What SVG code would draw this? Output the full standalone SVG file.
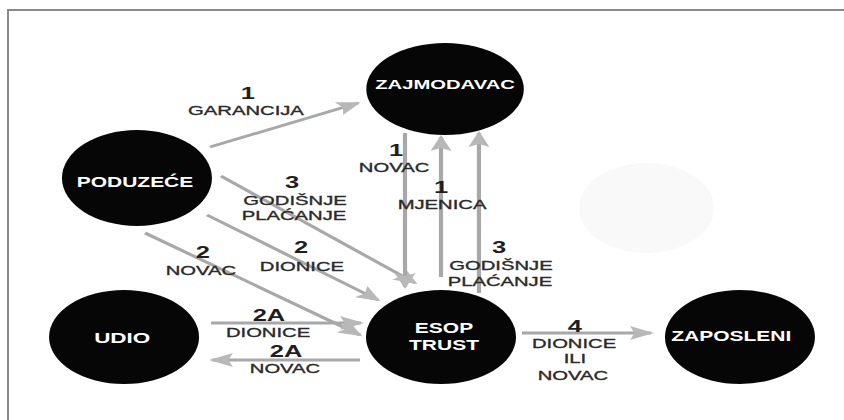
<svg xmlns="http://www.w3.org/2000/svg" width="844" height="420" viewBox="0 0 844 420">
  <style>
    .node ellipse { fill: #060606; }
    .nl { font-family: "Liberation Sans", Arial, sans-serif; font-weight: bold; fill: #ffffff; text-anchor: middle; font-size: 14px; }
    .edge { fill: none; stroke: #a8a8a8; stroke-width: 2.8; marker-end: url(#head); }
    .num { font-family: "Liberation Sans", Arial, sans-serif; font-weight: bold; fill: #1e1e1e; text-anchor: middle; font-size: 17px; }
    .lbl { font-family: "Liberation Sans", Arial, sans-serif; fill: #2a2a2a; stroke: #2a2a2a; stroke-width: 0.35; text-anchor: middle; font-size: 13.5px; }
  </style>
  <defs>
    <marker id="head" markerUnits="userSpaceOnUse" markerWidth="18" markerHeight="16" refX="14" refY="7" orient="auto" viewBox="0 0 18 16">
      <path d="M0,0 L16,7 L0,14 L3,7 Z" fill="#b8b8b8"/>
    </marker>
  </defs>
  <rect x="0" y="0" width="844" height="420" fill="#ffffff"/>
  <path d="M8,420 V10 H844" fill="none" stroke="#8a8a8a" stroke-width="2"/>
  <g transform="scale(1.5,1)">
    <ellipse cx="431" cy="208" rx="45" ry="45" fill="#f9f9f9"/>

    <g id="connectors">
      <path class="edge" d="M140,147 L238.7,103"/>
      <path class="edge" d="M147.3,176 L276.7,283"/>
      <path class="edge" d="M138,215 L252,300"/>
      <path class="edge" d="M96.7,233 L240,335"/>
      <path class="edge" d="M140.7,323 L240.7,323"/>
      <path class="edge" d="M240,360 L141.3,360"/>
      <path class="edge" d="M348,333 L434,333"/>
      <path class="edge" d="M270,133 L270,287"/>
      <path class="edge" d="M294,277 L294,137"/>
      <path class="edge" d="M319.3,293 L319.3,133"/>

      <text class="num" x="165.3" y="99">1</text>
      <text class="lbl" x="164" y="115">GARANCIJA</text>
      <text class="num" x="264" y="156">1</text>
      <text class="lbl" x="262.7" y="172">NOVAC</text>
      <text class="num" x="294" y="193">1</text>
      <text class="lbl" x="294.7" y="209">MJENICA</text>
      <text class="num" x="194.7" y="188">3</text>
      <text class="lbl" x="196.7" y="205">GODIŠNJE</text>
      <text class="lbl" x="196" y="220">PLAĆANJE</text>
      <text class="num" x="135.3" y="258">2</text>
      <text class="lbl" x="134" y="275">NOVAC</text>
      <text class="num" x="200.7" y="253">2</text>
      <text class="lbl" x="201.3" y="271">DIONICE</text>
      <text class="num" x="332.7" y="253">3</text>
      <text class="lbl" x="334" y="270">GODIŠNJE</text>
      <text class="lbl" x="333.3" y="286">PLAĆANJE</text>
      <text class="num" x="179.3" y="321">2A</text>
      <text class="lbl" x="178.7" y="337">DIONICE</text>
      <text class="num" x="190.7" y="357">2A</text>
      <text class="lbl" x="190" y="373">NOVAC</text>
      <text class="num" x="383.3" y="332">4</text>
      <text class="lbl" x="382.7" y="348">DIONICE</text>
      <text class="lbl" x="383.3" y="363">ILI</text>
      <text class="lbl" x="382" y="380">NOVAC</text>
    </g>

    <g id="zajmodavac" class="node">
      <ellipse cx="296.7" cy="89" rx="52.5" ry="46"/>
      <text class="nl" x="296.7" y="89" style="font-size:13.5px">ZAJMODAVAC</text>
    </g>
    <g id="poduzece" class="node">
      <ellipse cx="91.3" cy="178" rx="50" ry="48"/>
      <text class="nl" x="90" y="187">PODUZEĆE</text>
    </g>
    <g id="udio" class="node">
      <ellipse cx="82.7" cy="337" rx="50" ry="47"/>
      <text class="nl" x="81.5" y="343" style="font-size:15px">UDIO</text>
    </g>
    <g id="esop-trust" class="node">
      <ellipse cx="294" cy="337" rx="50" ry="47"/>
      <text class="nl" x="296" y="333">ESOP</text>
      <text class="nl" x="296" y="350">TRUST</text>
    </g>
    <g id="zaposleni" class="node">
      <ellipse cx="493.3" cy="337" rx="50" ry="47"/>
      <text class="nl" x="487.5" y="341">ZAPOSLENI</text>
    </g>
  </g>
</svg>
